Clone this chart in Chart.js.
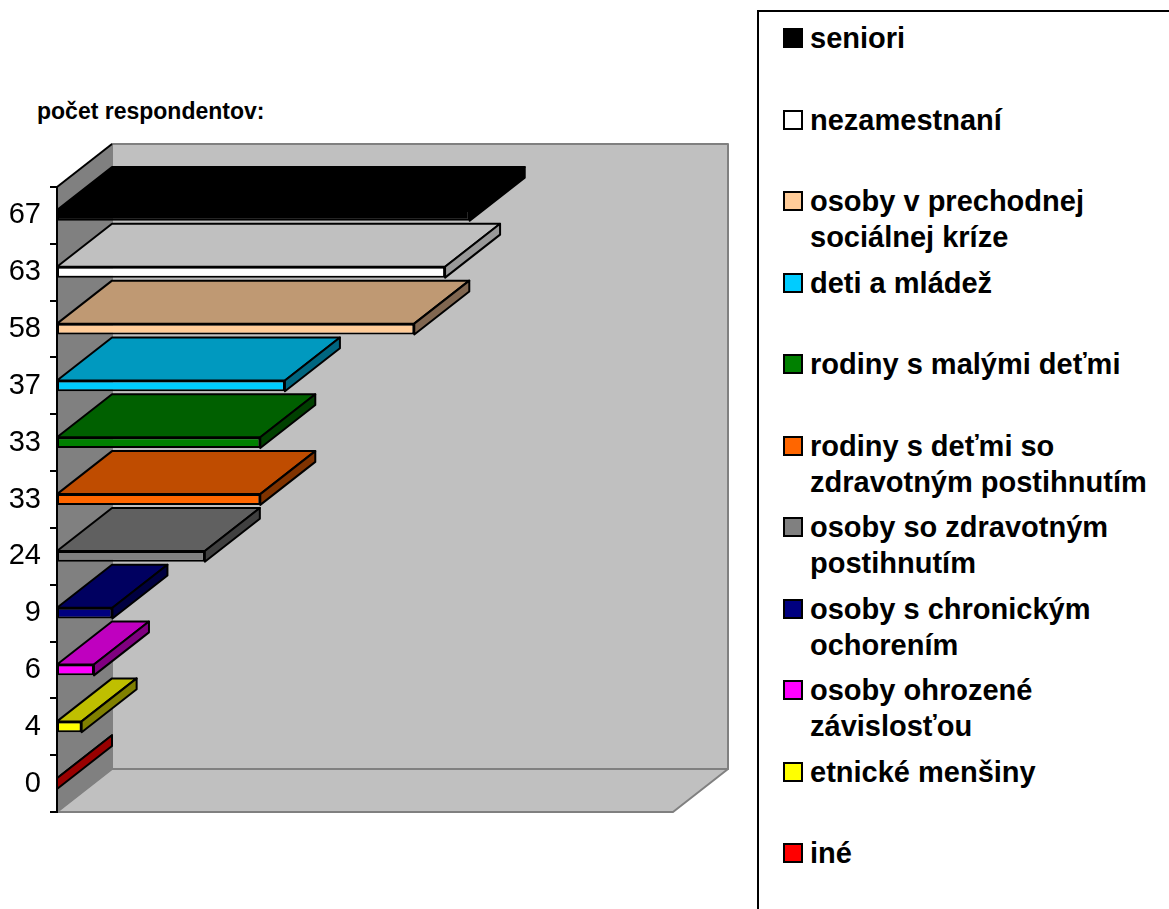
<!DOCTYPE html>
<html lang="sk">
<head>
<meta charset="utf-8">
<title>počet respondentov</title>
<script src="https://cdn.jsdelivr.net/npm/chart.js@4.4.1/dist/chart.umd.min.js"></script>
<style>
    html, body { margin: 0; padding: 0; background: #fff; }
    body { position: relative; width: 1169px; height: 909px; overflow: hidden; font-family: "Liberation Sans", Arial, sans-serif; }
    #title { position: absolute; left: 37px; top: 98px; font-size: 23px; font-weight: bold; color: #000; }
    #wrap { position: absolute; left: 0; top: 0; width: 740px; height: 909px; }
    #legend { position: absolute; left: 757px; top: 10px; width: 440px; height: 940px; border: 2px solid #000; box-sizing: border-box; padding-top: 8px; }
    .item { position: relative; height: 81.5px; padding-left: 51px; font-size: 29px; font-weight: bold; line-height: 36px; color: #000; }
    .swatch { position: absolute; left: 24px; top: 8px; width: 16px; height: 16px; border: 2px solid #000; }
</style>
</head>
<body>
<div id="title">počet respondentov:</div>
<div id="wrap"><canvas id="chart" width="740" height="909"></canvas></div>
<div id="legend"></div>
<script>
// skupiny respondentov (legenda), odshora nadol
const groups = [
    ['seniori'],
    ['nezamestnaní'],
    ['osoby v prechodnej', 'sociálnej kríze'],
    ['deti a mládež'],
    ['rodiny s malými deťmi'],
    ['rodiny s deťmi so', 'zdravotným postihnutím'],
    ['osoby so zdravotným', 'postihnutím'],
    ['osoby s chronickým', 'ochorením'],
    ['osoby ohrozené', 'závislosťou'],
    ['etnické menšiny'],
    ['iné']
];
const counts = [67, 63, 58, 37, 33, 33, 24, 9, 6, 4, 0];
const tickLabels = ['67', '63', '58', '37', '33', '33', '24', '9', '6', '4', '0'];

// front face, top face, side face
const faceColors = ['#000000', '#ffffff', '#ffcc99', '#00ccff', '#008000', '#ff6600', '#808080', '#000080', '#ff00ff', '#ffff00', '#ff0000'];
const topColors  = ['#000000', '#c0c0c0', '#bf9973', '#0099bf', '#006000', '#bf4c00', '#606060', '#000060', '#bf00bf', '#bfbf00', '#bf0000'];
const sideColors = ['#000000', '#999999', '#806650', '#006680', '#004000', '#803300', '#404040', '#000040', '#800080', '#808000', '#990000'];

const DX = 55, DY = -43;   // hlbka 3D

// legenda
const legend = document.getElementById('legend');
groups.forEach((lines, i) => {
    const item = document.createElement('div');
    item.className = 'item';
    const sw = document.createElement('span');
    sw.className = 'swatch';
    sw.style.background = faceColors[i];
    item.appendChild(sw);
    lines.forEach((line, j) => {
        if (j > 0) item.appendChild(document.createElement('br'));
        item.appendChild(document.createTextNode(line));
    });
    legend.appendChild(item);
});

function poly(ctx, pts, fill, stroke, width) {
    ctx.beginPath();
    ctx.moveTo(pts[0][0], pts[0][1]);
    for (let k = 1; k < pts.length; k++) ctx.lineTo(pts[k][0], pts[k][1]);
    ctx.closePath();
    if (fill) { ctx.fillStyle = fill; ctx.fill(); }
    if (stroke) { ctx.strokeStyle = stroke; ctx.lineWidth = width; ctx.stroke(); }
}

const box3d = {
    id: 'box3d',
    beforeDraw(chart) {
        const { ctx, chartArea: a } = chart;
        const right = chart.scales.x.getPixelForValue(100);
        ctx.save();
        ctx.lineJoin = 'round';
        // zadna stena
        poly(ctx, [[a.left + DX, a.top + DY], [right + DX, a.top + DY], [right + DX, a.bottom + DY], [a.left + DX, a.bottom + DY]], '#c0c0c0', '#808080', 2);
        // podlaha
        poly(ctx, [[a.left, a.bottom], [a.left + DX, a.bottom + DY], [right + DX, a.bottom + DY], [right, a.bottom]], '#c0c0c0', '#808080', 2);
        // bocna stena
        poly(ctx, [[a.left, a.top], [a.left + DX, a.top + DY], [a.left + DX, a.bottom + DY], [a.left, a.bottom]], '#808080', '#808080', 1);
        ctx.beginPath();
        ctx.moveTo(a.left, a.top);
        ctx.lineTo(a.left + DX, a.top + DY);
        ctx.strokeStyle = '#000';
        ctx.lineWidth = 2;
        ctx.stroke();
        ctx.restore();
    },
    beforeDatasetsDraw(chart) {
        const ctx = chart.ctx;
        const meta = chart.getDatasetMeta(0);
        ctx.save();
        ctx.lineJoin = 'round';
        meta.data.forEach((bar, i) => {
            const p = bar.getProps(['x', 'y', 'base', 'height'], true);
            const y0 = p.y - p.height / 2, y1 = p.y + p.height / 2;
            // horna plocha
            poly(ctx, [[p.base, y0], [p.base + DX, y0 + DY], [p.x + DX, y0 + DY], [p.x, y0]], topColors[i], '#000', 2);
            // bocna plocha
            poly(ctx, [[p.x, y0], [p.x + DX, y0 + DY], [p.x + DX, y1 + DY], [p.x, y1]], sideColors[i], '#000', 2);
        });
        ctx.restore();
    }
};

const ctx = document.getElementById('chart').getContext('2d');
new Chart(ctx, {
    type: 'bar',
    data: {
        labels: tickLabels,
        datasets: [{
            data: counts,
            backgroundColor: faceColors,
            borderColor: '#000',
            borderWidth: 2,
            borderSkipped: false,
            categoryPercentage: 1,
            barPercentage: 0.19
        }]
    },
    options: {
        indexAxis: 'y',
        responsive: false,
        animation: false,
        layout: { padding: { top: 187, bottom: 97, right: 67, left: 0 } },
        plugins: {
            legend: { display: false },
            tooltip: { enabled: false }
        },
        scales: {
            x: { display: false, min: 0, max: 100 },
            y: {
                afterFit(scale) { scale.width = 57; },
                grid: { drawOnChartArea: false, color: '#000', lineWidth: 2, tickLength: 7 },
                border: { display: true, color: '#000', width: 2 },
                ticks: {
                    color: '#000',
                    padding: 9,
                    font: { family: '"Liberation Sans", Arial, sans-serif', size: 29 }
                }
            }
        }
    },
    plugins: [box3d]
});
</script>
</body>
</html>
